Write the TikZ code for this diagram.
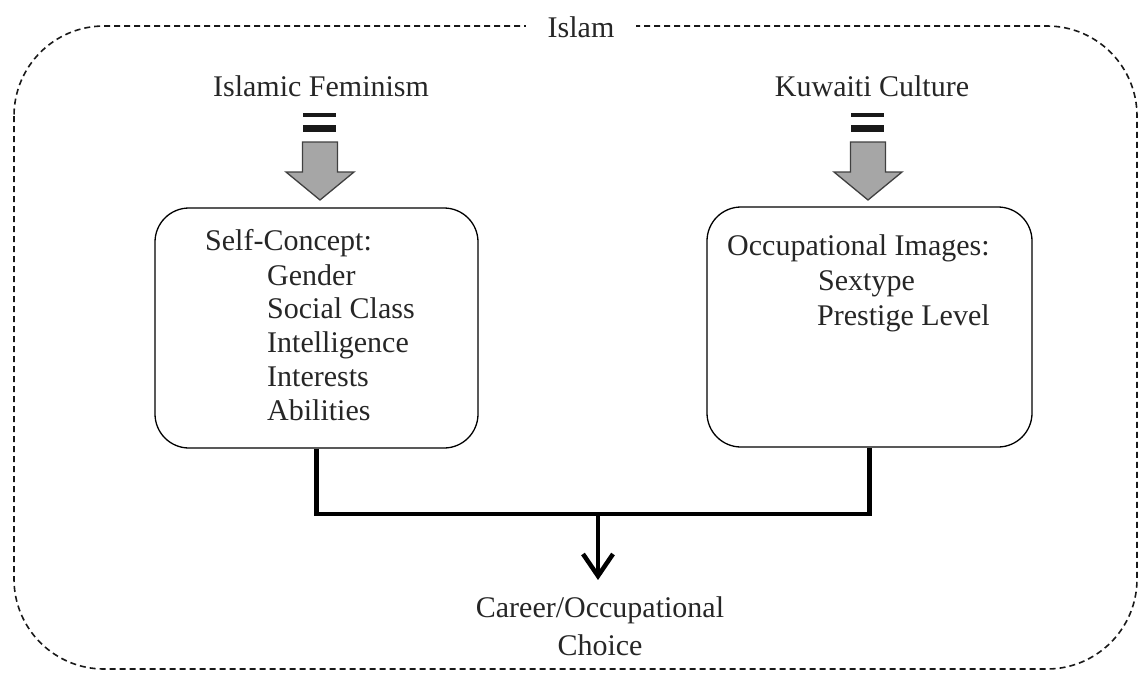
\documentclass[tikz,border=0pt]{standalone}
\usepackage{fontspec}
\setmainfont{Liberation Serif}
\usetikzlibrary{arrows.meta}
\tikzset{
  txt/.style={inner sep=0pt, font=\fontsize{30}{34}\selectfont, text=black!85},
  roundbox/.style={draw, line width=1.3pt, rounded corners=34pt, inner sep=0pt},
  conn/.style={line width=4.5pt},
  grayarrow/.pic={
    \fill[black!90] (-17,113) rectangle (16,116.5);
    \fill[black!90] (-17,124.5) rectangle (16,131.5);
    \draw[fill=black!35, draw=black!75, line width=1.3pt]
      (-17.5,142) -- (17.5,142) -- (17.5,172) -- (34,172) -- (0,200)
      -- (-34,172) -- (-17.5,172) -- cycle;
  }
}
\begin{document}
\begin{tikzpicture}[x=1pt,y=-1pt]
\useasboundingbox (0,0) rectangle (1140,673);
% outer dashed frame
\draw[dash pattern=on 6pt off 4pt, line width=1.6pt, rounded corners=90pt, black!90]
  (14,26) rectangle (1137,669);
\node[txt, fill=white, inner xsep=22pt, inner ysep=3pt, anchor=base] (islam) at (581,37) {Islam};

% top labels
\node[txt, anchor=base] (fem) at (321,96) {Islamic Feminism};
\node[txt, anchor=base] (kuw) at (872,96) {Kuwaiti Culture};
\pic at (320,0) {grayarrow};
\pic at (868,0) {grayarrow};

% boxes
\node[roundbox, minimum width=323pt, minimum height=240pt] (sc) at (316.5,328) {};
\node[roundbox, minimum width=325pt, minimum height=240pt] (oi) at (869.5,327) {};

% left box text
\node[txt, anchor=base west] (sch) at (205,250) {Self-Concept:};
\node[txt, anchor=base west] (sc1) at (267,285) {Gender};
\node[txt, anchor=base west] (sc2) at (267,318) {Social Class};
\node[txt, anchor=base west] (sc3) at (267,352) {Intelligence};
\node[txt, anchor=base west] (sc4) at (267,386) {Interests};
\node[txt, anchor=base west] (sc5) at (267,420) {Abilities};

% right box text
\node[txt, anchor=base west] (oih) at (727,255) {Occupational Images:};
\node[txt, anchor=base west] (oi1) at (818,290) {Sextype};
\node[txt, anchor=base west] (oi2) at (817,325) {Prestige Level};

% outcome
\node[txt, anchor=base] (cc1) at (600,617) {Career/Occupational};
\node[txt, anchor=base] (cc2) at (600,655) {Choice};

% connectors
\coordinate (j) at (598,514);
\draw[conn] (sc.south) |- (j) -| (oi.south);
\draw[conn, shorten >=16pt, -{Straight Barb[length=22pt, width=30pt, line width=4.5pt]}]
  (j) -- (j |- cc1.north);
\end{tikzpicture}
\end{document}
